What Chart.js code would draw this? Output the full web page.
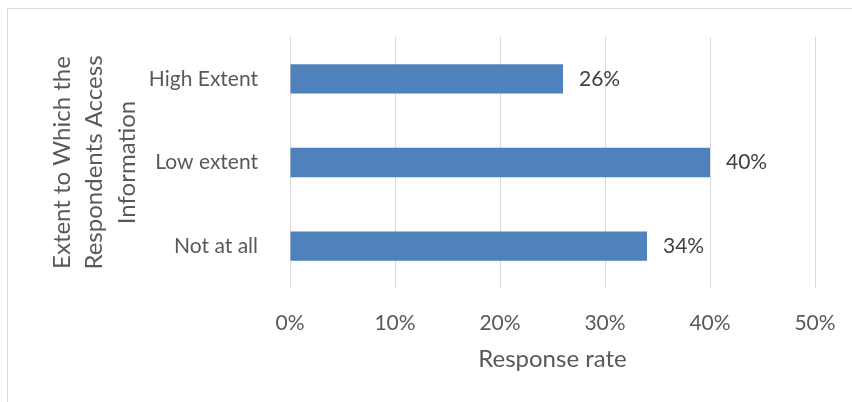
<!DOCTYPE html>
<html>
<head>
<meta charset="utf-8">
<script src="https://cdn.jsdelivr.net/npm/chart.js@4/dist/chart.umd.min.js"></script>
<style>
  body { margin: 0; background: #fff; overflow: hidden; }
  #frame { position: absolute; left: 7px; top: 8px; width: 900px; height: 500px; border: 1px solid #d9d9d9; }
  #chart { position: absolute; left: 0; top: 0; }
</style>
</head>
<body>
<div id="frame"></div>
<canvas id="chart" width="852" height="402"></canvas>
<script>
// data
const categories = ["High Extent", "Low extent", "Not at all"];
const responseRate = [26, 40, 34];
const xTicks = [0, 10, 20, 30, 40, 50];
const xTitle = "Response rate";
const yTitle = ["Extent to Which the", "Respondents Access", "Information"];

const fontFamily = "Lato, Carlito, 'Open Sans', sans-serif";

// etiquetas no fim das barras
const barLabels = {
    id: "barLabels",
    afterDatasetsDraw(chart) {
        const ctx = chart.ctx;
        const meta = chart.getDatasetMeta(0);
        ctx.save();
        ctx.font = "21px " + fontFamily;
        ctx.fillStyle = "#404040";
        ctx.textAlign = "left";
        ctx.textBaseline = "middle";
        meta.data.forEach((bar, i) => {
            ctx.fillText(responseRate[i] + "%", bar.x + 16, bar.y);
        });
        ctx.restore();
    }
};

new Chart(document.getElementById("chart").getContext("2d"), {
    type: "bar",
    data: {
        labels: categories,
        datasets: [{
            data: responseRate,
            backgroundColor: "#4F81BD",
            borderWidth: 0,
            barPercentage: 0.35,
            categoryPercentage: 1
        }]
    },
    options: {
        indexAxis: "y",
        responsive: false,
        animation: false,
        layout: { padding: { top: 37, right: 37, left: 0, bottom: 0 } },
        plugins: {
            legend: { display: false },
            tooltip: { enabled: false }
        },
        scales: {
            x: {
                min: 0,
                max: 50,
                afterBuildTicks: (axis) => { axis.ticks = xTicks.map(v => ({ value: v })); },
                afterFit: (axis) => {
                    axis.height = 114;
                    axis.paddingLeft = 0;
                    axis.paddingRight = 0;
                },
                grid: { color: "#d9d9d9", lineWidth: 1, drawTicks: false },
                border: { display: false },
                ticks: {
                    padding: 23,
                    color: "#595959",
                    font: { family: fontFamily, size: 21 },
                    callback: (v) => v + "%"
                },
                title: {
                    display: true,
                    text: xTitle,
                    color: "#595959",
                    font: { family: fontFamily, size: 24 },
                    padding: { top: 0, bottom: 28 }
                }
            },
            y: {
                afterFit: (axis) => { axis.width = 290; },
                grid: { display: false },
                border: { display: false },
                ticks: {
                    padding: 24,
                    color: "#595959",
                    font: { family: fontFamily, size: 21 }
                },
                title: {
                    display: true,
                    text: yTitle,
                    color: "#595959",
                    font: { family: fontFamily, size: 24, lineHeight: 1.35 },
                    padding: { top: 46, bottom: 0 }
                }
            }
        }
    },
    plugins: [barLabels]
});
</script>
</body>
</html>
